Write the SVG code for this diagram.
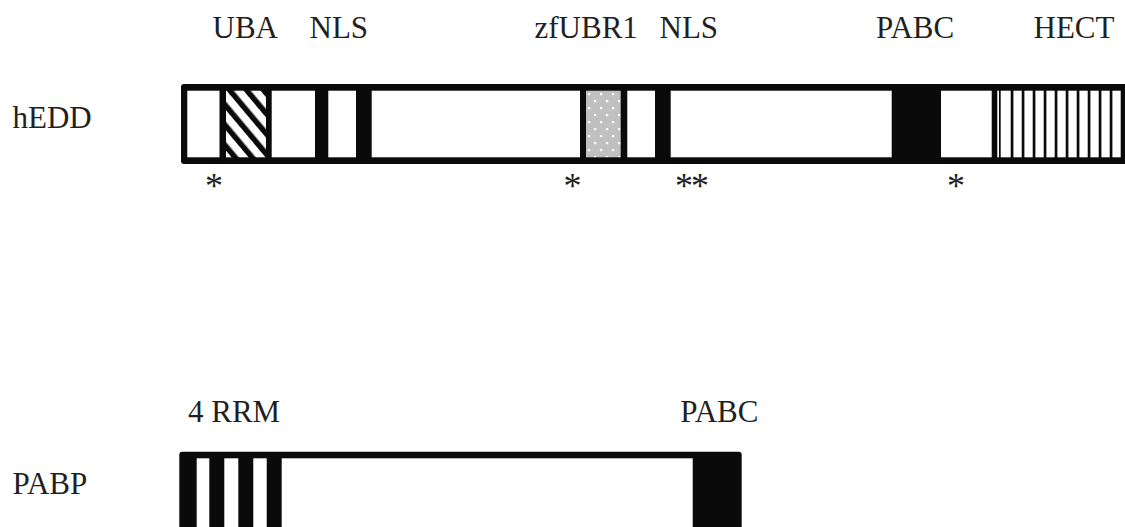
<svg xmlns="http://www.w3.org/2000/svg" width="1125" height="527" viewBox="0 0 1125 527">
<style>
  text { font-family: "Liberation Serif", "Times New Roman", serif; font-size: 31px; fill: #231f20; }
  .ast { text-anchor: middle; font-size: 36px; }
  .blk { fill: #0a0a0a; }
  .wht { fill: #ffffff; }
</style>
<defs>
  <pattern id="hatch" patternUnits="userSpaceOnUse" width="13" height="13" patternTransform="translate(226 90) rotate(-40)">
    <rect x="0" y="0" width="13" height="13" fill="#ffffff"/>
    <rect x="0" y="0" width="5.5" height="13" fill="#0a0a0a"/>
  </pattern>
  <pattern id="dots" patternUnits="userSpaceOnUse" width="12" height="14" patternTransform="translate(586 91)">
    <rect x="0" y="0" width="12" height="14" fill="#c0c0c0"/>
    <rect x="2" y="2" width="2.2" height="2.2" fill="#ffffff"/>
    <rect x="8" y="9" width="2.2" height="2.2" fill="#ffffff"/>
  </pattern>
</defs>
<rect width="1125" height="527" fill="#ffffff"/>

<g id="labels-hEDD">
  <text x="212.5" y="37.5">UBA</text>
  <text x="309.5" y="37.5">NLS</text>
  <text x="534.5" y="37.5">zfUBR1</text>
  <text x="659.5" y="37.5">NLS</text>
  <text x="876" y="37.5">PABC</text>
  <text x="1033.5" y="37.5">HECT</text>
</g>

<g id="hEDD">
  <text x="12.5" y="128.3">hEDD</text>
  <rect class="blk" x="181" y="84" width="960" height="80" rx="3"/>
  <rect class="wht" x="187.3" y="90.7" width="32.2" height="66.6"/>
  <rect fill="url(#hatch)" x="226" y="90.7" width="40" height="66.6"/>
  <rect class="wht" x="271.7" y="90.7" width="43.3" height="66.6"/>
  <rect class="wht" x="328.3" y="90.7" width="27.7" height="66.6"/>
  <rect class="wht" x="371.7" y="90.7" width="208.3" height="66.6"/>
  <rect fill="url(#dots)" x="586" y="90.7" width="34.7" height="66.6"/>
  <rect class="wht" x="627.3" y="90.7" width="27.7" height="66.6"/>
  <rect class="wht" x="670.7" y="90.7" width="221" height="66.6"/>
  <rect class="wht" x="941" y="90.7" width="50.7" height="66.6"/>
  <rect class="wht" x="997.3" y="90.7" width="1.7" height="66.6"/>
  <rect class="wht" x="1000.7" y="90.7" width="10" height="66.6"/>
  <rect class="wht" x="1013.4" y="90.7" width="8.3" height="66.6"/>
  <rect class="wht" x="1024.4" y="90.7" width="8.3" height="66.6"/>
  <rect class="wht" x="1035.4" y="90.7" width="8.3" height="66.6"/>
  <rect class="wht" x="1046.4" y="90.7" width="8.3" height="66.6"/>
  <rect class="wht" x="1057.4" y="90.7" width="8.3" height="66.6"/>
  <rect class="wht" x="1068.4" y="90.7" width="8.3" height="66.6"/>
  <rect class="wht" x="1079.4" y="90.7" width="8.3" height="66.6"/>
  <rect class="wht" x="1090.4" y="90.7" width="8.3" height="66.6"/>
  <rect class="wht" x="1101.4" y="90.7" width="8.3" height="66.6"/>
  <rect class="wht" x="1112.4" y="90.7" width="8.3" height="66.6"/>
  <text class="ast" x="214" y="198">*</text>
  <text class="ast" x="572.5" y="198">*</text>
  <text class="ast" x="691" y="198" letter-spacing="-2">**</text>
  <text class="ast" x="956" y="198">*</text>
</g>

<g id="labels-PABP">
  <text x="188" y="422.3">4 RRM</text>
  <text x="680.3" y="422.3">PABC</text>
</g>

<g id="PABP">
  <text x="12.5" y="494.3">PABP</text>
  <rect class="blk" x="179.3" y="451.7" width="562.4" height="90" rx="3"/>
  <rect class="wht" x="196.7" y="458.3" width="12.6" height="80"/>
  <rect class="wht" x="224.3" y="458.3" width="14" height="80"/>
  <rect class="wht" x="253.3" y="458.3" width="13.4" height="80"/>
  <rect class="wht" x="281.7" y="458.3" width="411" height="80"/>
</g>

<g id="connectors"></g>
</svg>
